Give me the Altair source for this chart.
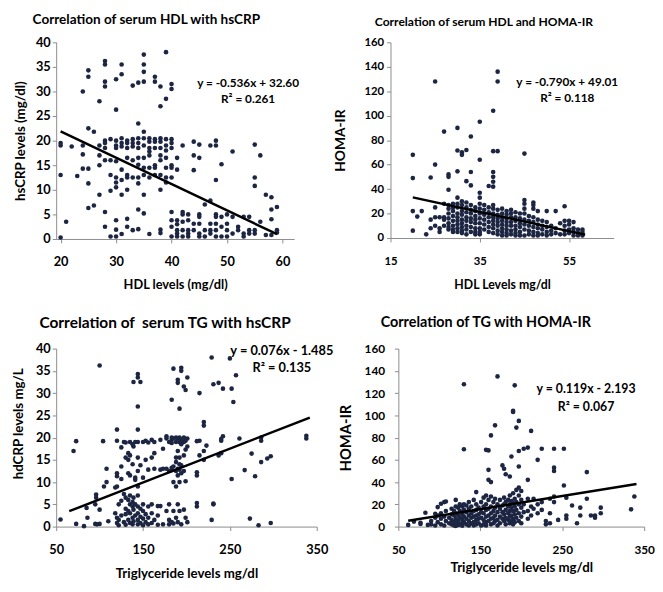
import altair as alt
import pandas as pd

FONT = "Lato"
DOT = "#1c2541"
AXC = "#8c8c8c"

# ---- Panel 1: HDL (mg/dl) -> hsCRP levels (mg/dl); keys are HDL, values are hsCRP readings
hdl_crp = {
    20: [19.5, 19.0, 13.0, 0.3], 21: [3.5], 22: [18.8], 23: [12.8],
    24: [30.0, 19.0, 17.2, 14.3], 25: [34.3, 33.0, 22.5, 14.3, 11.3, 6.3],
    26: [21.8, 6.8], 27: [28.0, 19.0, 17.0, 15.0, 9.0],
    28: [36.2, 35.5, 32.0, 31.0, 20.0, 19.5, 18.5, 16.0, 5.5, 2.5],
    29: [20.3, 16.0, 13.0, 9.8, 0.5],
    30: [32.5, 26.3, 20.0, 19.0, 18.5, 15.8, 12.5, 11.5, 10.5, 3.8, 1.9, 0.5],
    31: [35.5, 33.5, 20.5, 19.5, 18.8, 14.1, 12.0, 9.0, 1.0],
    32: [20.0, 19.5, 18.5, 16.5, 13.0, 12.5, 10.0, 4.1, 2.5],
    33: [31.2, 20.3, 19.5, 18.8, 16.0, 12.5, 1.8],
    34: [31.8, 23.5, 20.5, 19.5, 18.5, 16.5, 15.1, 12.5, 11.3, 6.0, 2.0],
    35: [37.5, 35.5, 34.0, 32.0, 21.8, 20.5, 19.0, 16.5, 14.5, 13.0, 9.0, 5.2],
    36: [20.5, 19.8, 18.5, 17.8, 17.0, 14.5, 12.5, 1.0],
    37: [33.0, 32.0, 20.3, 19.8, 18.5, 15.0, 14.5, 13.0],
    38: [31.0, 27.0, 20.5, 19.8, 18.5, 17.0, 16.0, 13.0, 10.0, 1.9, 1.2],
    39: [38.0, 28.5, 20.3, 19.0, 18.0, 16.5, 14.5, 12.5, 11.5],
    40: [31.5, 30.5, 20.3, 19.5, 18.5, 15.0, 14.5, 12.5, 5.5, 3.8, 2.5, 0.5],
    41: [16.5, 14.1, 3.8, 3.0, 1.8, 1.1, 0.5],
    42: [19.0, 5.5, 5.0, 3.5, 1.8, 0.5],
    43: [5.0, 3.8, 1.8, 1.1, 0.5],
    44: [19.8, 17.0, 14.0, 3.1, 1.8],
    45: [19.2, 16.5, 5.0, 4.5, 3.1, 1.1, 0.5],
    46: [7.0, 1.8, 0.5], 47: [19.0, 7.8, 3.1, 1.8, 1.1],
    48: [20.0, 19.0, 12.0, 5.0, 4.5, 3.1, 1.8, 0.5],
    49: [15.2, 4.5, 2.5, 0.5], 50: [5.0, 3.1, 1.8, 0.5],
    51: [17.8, 4.5, 1.1], 52: [2.5, 1.8], 53: [4.5, 1.1, 0.5],
    54: [4.5, 1.8, 1.1], 55: [19.2, 12.5, 10.8, 1.8, 1.1],
    56: [17.0, 3.5], 57: [9.0, 0.8], 58: [8.5, 6.0, 4.0, 0.8], 59: [6.5, 1.8, 1.3],
}

# ---- Panel 2: HDL (mg/dl) -> HOMA-IR
hdl_homa = {
    20: [68.0, 49.0, 22.0, 6.0], 21: [17.5], 22: [22.0], 23: [3.0],
    24: [49.5, 15.0, 8.0], 25: [128.0, 60.0, 25.0, 17.0, 10.0],
    26: [17.0, 8.0, 5.0], 27: [87.0, 28.0, 17.0, 15.0, 10.0],
    28: [52.0, 50.0, 39.5, 27.0, 24.0, 20.0, 16.0, 12.0, 9.0, 7.0],
    29: [28.0, 25.0, 22.0, 18.0, 14.0, 10.0, 7.0, 5.0],
    30: [90.0, 71.5, 54.5, 33.0, 28.0, 25.0, 20.0, 17.0, 14.0, 11.0, 8.0, 5.0],
    31: [70.0, 68.0, 30.0, 27.0, 22.0, 19.0, 15.0, 12.0, 9.0, 6.0, 4.0],
    32: [72.0, 46.5, 29.0, 25.0, 21.0, 17.0, 14.0, 10.0, 7.0, 3.0],
    33: [83.0, 54.0, 43.0, 27.0, 23.0, 20.0, 16.0, 13.0, 9.0, 5.0],
    34: [25.0, 22.0, 18.0, 15.0, 12.0, 8.0, 5.0, 3.0],
    35: [95.0, 64.0, 37.0, 33.0, 28.0, 24.0, 20.0, 16.0, 12.0, 8.0, 5.0, 3.0],
    36: [27.0, 23.0, 19.0, 15.0, 11.0, 7.0],
    37: [42.5, 25.0, 21.0, 17.0, 13.0, 9.0, 5.0],
    38: [104.0, 71.0, 54.0, 50.0, 46.0, 42.0, 27.0, 24.0, 20.0, 17.0, 14.0, 11.0, 8.0, 4.0],
    39: [136.0, 128.0, 71.0, 23.0, 19.0, 16.0, 13.0, 10.0, 6.0, 3.0],
    40: [24.0, 20.0, 17.0, 14.0, 11.0, 8.0, 5.0, 2.0],
    41: [22.0, 19.0, 16.0, 13.0, 10.0, 7.0, 4.0, 2.0],
    42: [23.0, 20.0, 17.0, 13.0, 10.0, 6.0, 3.0],
    43: [21.0, 17.0, 14.0, 10.0, 7.0, 4.0, 2.0],
    44: [20.0, 16.0, 12.0, 9.0, 5.0, 2.0],
    45: [69.0, 31.0, 28.0, 24.0, 20.0, 15.0, 11.0, 7.0, 2.0],
    46: [18.0, 14.0, 10.0, 6.0, 3.0],
    47: [29.0, 27.0, 24.0, 17.0, 13.0, 9.0, 5.0, 2.0],
    48: [22.0, 15.0, 11.0, 8.0, 4.0, 2.0], 49: [14.0, 10.0, 7.0, 3.0],
    50: [22.0, 13.0, 9.0, 5.0, 2.0], 51: [10.0, 6.0, 3.0], 52: [22.0, 8.0, 4.0],
    53: [12.0, 3.0], 54: [26.0, 14.0, 10.0, 6.0, 3.0], 55: [14.0, 11.0, 7.0, 4.0],
    56: [13.0, 8.0, 5.0, 2.0], 57: [7.0, 4.0, 2.0], 58: [7.0, 5.0, 3.0, 2.0],
}

# ---- Panel 3: triglyceride (mg/dl) -> hsCRP (mg/L)
tg_crp = {
    55: [1.6], 70: [17.0], 73: [19.2, 0.6], 82: [0.1], 85: [4.2], 86: [2.0],
    95: [5.0, 0.6], 96: [7.2, 6.5], 97: [0.5], 100: [36.2, 3.8, 0.6],
    104: [19.2], 105: [9.0], 108: [13.0, 10.0], 110: [1.2], 118: [3.0, 8.8],
    120: [21.8, 19.3, 12.0, 11.3, 9.0, 2.0, 0.8], 122: [5.0, 1.5, 0.3],
    125: [17.8, 13.5, 10.7, 5.8, 2.5], 128: [19.0, 7.3, 1.0],
    130: [18.9, 15.5, 6.5, 4.0, 2.8, 0.4], 133: [16.5, 15.0, 12.0, 6.0, 3.5, 1.5],
    135: [19.0, 16.0, 11.5, 7.0, 5.0, 3.0, 0.8], 138: [18.5, 14.0, 5.5, 4.5, 2.0, 0.5],
    139: [32.5, 18.0, 6.5, 3.8, 1.2], 141: [19.0, 11.0, 10.5, 5.0, 2.5],
    144: [34.3, 33.5, 27.0, 21.8, 19.0, 15.5, 12.5, 9.0, 7.0, 4.5, 3.0, 1.5, 0.5],
    147: [32.5, 13.8, 4.0, 2.2, 0.8], 150: [19.0, 11.0, 5.0, 3.5, 1.8, 0.3],
    153: [19.3, 15.0, 2.8, 1.0], 156: [18.9, 12.8, 4.5, 2.0, 0.5],
    160: [19.5, 15.5, 5.0, 3.0, 0.8], 163: [19.0, 16.5, 13.0, 1.5],
    167: [4.6, 2.5, 0.4], 170: [19.5, 12.8, 4.6], 173: [17.5, 13.0, 0.5],
    177: [20.3, 19.8, 13.0, 3.5], 180: [19.0, 12.5, 5.0, 1.5, 0.5],
    183: [28.5, 20.0, 19.5, 18.8, 13.2, 12.7, 1.0],
    185: [35.5, 19.8, 13.5, 10.0, 3.5, 0.7],
    188: [20.0, 19.0, 15.5, 14.5, 12.5, 9.0, 2.0],
    190: [33.0, 32.3, 19.8, 17.0, 13.0, 11.5, 5.0, 1.0],
    192: [26.5, 20.0, 19.0, 15.5, 14.0, 12.8, 10.0, 3.5],
    194: [35.7, 35.0, 19.5, 18.5, 13.8, 12.0, 0.5],
    197: [31.5, 20.0, 19.0, 16.0, 12.5, 3.8], 199: [30.7, 19.3, 17.3, 10.2, 2.0],
    201: [33.5, 19.8, 18.0, 1.0], 212: [19.2, 12.2, 11.5, 5.3, 4.5],
    215: [30.0, 19.3, 16.0], 220: [23.5, 22.7, 17.0, 15.0], 223: [18.2],
    229: [38.0, 1.5], 231: [32.0, 5.2, 5.0], 237: [32.3, 16.0],
    240: [19.3, 19.7, 16.5], 242: [31.0, 20.3], 250: [37.8], 252: [31.0, 10.7],
    254: [28.0], 257: [34.0], 261: [19.8], 267: [12.7], 273: [1.8], 275: [16.4],
    279: [11.3], 283: [0.3], 286: [20.0, 19.3, 14.5], 293: [15.3],
    297: [15.8, 0.8], 338: [20.4, 19.8],
}

# ---- Panel 4: triglyceride (mg/dl) -> HOMA-IR
tg_homa = {
    62: [1.5], 69: [4.5], 77: [2.3, 3.5], 83: [12.5], 86: [1.5], 90: [5.0, 2.0],
    95: [8.0, 11.5, 1.0], 98: [17.5, 10.0, 4.0], 102: [20.5, 12.0, 7.0, 2.0],
    106: [22.0, 9.0, 1.0], 108: [22.5, 14.0, 5.0], 112: [8.0, 3.0],
    115: [16.0, 11.0, 6.0, 2.0], 118: [14.0, 10.0, 4.0, 1.0],
    120: [24.0, 18.0, 12.0, 7.0, 3.0, 0.5], 123: [17.0, 10.0, 5.0, 1.5],
    125: [20.0, 14.0, 8.0, 2.0], 128: [18.0, 11.0, 6.0, 3.0, 0.8],
    130: [128.0, 69.5, 20.0, 15.0, 9.0, 4.0], 133: [19.0, 13.0, 7.0, 2.0],
    136: [22.0, 16.0, 10.0, 5.0, 1.0], 139: [18.0, 12.0, 8.0, 3.0],
    142: [24.0, 14.0, 9.0, 4.0, 1.0], 145: [31.0, 20.0, 15.0, 10.0, 6.0, 2.0],
    148: [17.0, 11.0, 7.0, 3.0], 151: [22.0, 13.0, 8.0, 1.0],
    154: [26.0, 18.0, 12.0, 6.0, 2.0], 157: [69.0, 28.0, 20.0, 15.0, 9.0, 4.0, 1.0],
    160: [68.5, 51.0, 42.0, 24.0, 16.0, 10.0, 5.0],
    163: [82.0, 40.0, 27.0, 18.0, 12.0, 7.0, 2.0], 166: [22.0, 14.0, 8.0, 3.0],
    168: [91.0, 25.0, 17.0, 10.0, 5.0], 171: [135.0, 20.0, 13.0, 6.0, 1.0],
    174: [24.0, 16.0, 9.0, 3.0], 177: [55.0, 19.0, 13.0, 7.0],
    179: [52.0, 26.0, 20.0, 11.0, 5.0], 181: [47.0, 22.0, 15.0, 8.0, 2.0],
    184: [24.0, 18.0, 12.0, 6.0], 186: [45.0, 28.0, 20.0, 14.0, 9.0, 3.0],
    188: [63.0, 23.0, 17.0, 10.0, 5.0], 190: [104.0, 103.0, 30.0, 21.0, 14.0, 7.0, 2.0],
    192: [127.0, 25.0, 18.0, 11.0, 4.0], 194: [89.0, 33.0, 22.0, 15.0, 8.0],
    197: [95.0, 68.0, 54.0, 35.0, 28.0, 20.0, 12.0, 5.0],
    200: [32.0, 24.0, 17.0, 9.0, 3.0], 203: [70.0, 20.0, 13.0],
    208: [71.0, 42.0, 25.0, 14.0, 7.0], 212: [86.0, 18.0, 10.0], 215: [25.0, 16.0],
    220: [60.0, 20.0, 12.0], 225: [70.0, 22.0, 15.0], 230: [5.0, 2.0],
    235: [25.0, 12.0, 3.0], 240: [70.0, 53.0, 50.0, 27.0, 22.0], 245: [6.0],
    252: [70.0, 37.0], 255: [26.0, 10.0, 7.0], 262: [19.0], 268: [3.0],
    272: [17.0, 10.0], 280: [49.0, 25.0], 285: [10.0], 290: [10.0, 8.0],
    297: [17.0, 12.0], 334: [15.5], 338: [27.0],
}

titles = ["Correlation of serum HDL with hsCRP", "Correlation of serum HDL and HOMA-IR",
          "Correlation of\u00a0 serum TG with hsCRP", "Correlation of TG with HOMA-IR"]
x_titles = ["HDL levels (mg/dl)", "HDL Levels mg/dl",
            "Triglyceride levels mg/dl", "Triglyceride levels mg/dl"]
y_titles = ["hsCRP levels (mg/dl)", "HOMA-IR", "hdCRP levels mg/L", "HOMA-IR"]
equations = ["y = -0.536x + 32.60", "y = -0.790x + 49.01",
             "y = 0.076x - 1.485", "y = 0.119x - 2.193"]
r_squared = ["R² = 0.261", "R² = 0.118", "R² = 0.135", "R² = 0.067"]
slopes = [-0.536, -0.790, 0.076, 0.119]
intercepts = [32.60, 49.01, -1.485, -2.193]
trend_x_range = [(20, 59), (20, 58.6), (65, 342), (62, 340.6)]
# label anchor positions (data units): equation line, R² line
eq_pos = [(53.8, 31.7, 28.5), (54.6, 127.7, 114.7), (309.8, 39.4, 35.6), (279, 123.3, 107.4)]
x_domains = [[19.2, 62.1], [15, 65], [50, 350], [50, 350]]
y_domains = [[0, 40], [0, 160], [0, 40], [0, 160]]
x_ticks = [[20, 30, 40, 50, 60], [15, 35, 55], [50, 150, 250, 350], [50, 150, 250, 350]]
y_ticks = [[0, 5, 10, 15, 20, 25, 30, 35, 40], [0, 20, 40, 60, 80, 100, 120, 140, 160],
           [0, 5, 10, 15, 20, 25, 30, 35, 40], [0, 20, 40, 60, 80, 100, 120, 140, 160]]
point_sets = [hdl_crp, hdl_homa, tg_crp, tg_homa]

# layout / style per panel
W = [242, 227, 265, 250]
H = [200, 199, 181, 181]
title_size = [13.8, 12.3, 15.7, 14.6]
title_dx = [-24, -16, -17, -18]
title_offset = [10.2, 8.5, 11, 13]
tick_size = [13, 11.5, 13, 12]
ylab_pad = [2, 3, 2, 10]
xlab_pad = [13, 14, 13, 14]
xtitle_size = [13, 12.5, 13.5, 13.5]
ytitle_size = [13.5, 14, 13.5, 15]
xtitle_y = [46, 47, 48, 42]
ytitle_x = [-36, -51, -38.5, -54]
ytitle_y = [None, None, 76, None]
eq_size = [12, 12, 13, 12.5]


def panel(i):
    pts = pd.DataFrame([(x, y) for x, ys in point_sets[i].items() for y in ys], columns=["x", "y"])
    x0, x1 = trend_x_range[i]
    trend = pd.DataFrame({"x": [x0, x1],
                          "y": [slopes[i] * x0 + intercepts[i], slopes[i] * x1 + intercepts[i]]})
    ex, ey, ry = eq_pos[i]
    ann = pd.DataFrame({"x": [ex, ex], "y": [ey, ry], "t": [equations[i], r_squared[i]]})

    xs = alt.Scale(domain=x_domains[i], nice=False, zero=False)
    ys = alt.Scale(domain=y_domains[i], nice=False, zero=False)
    xaxis = alt.Axis(values=x_ticks[i], title=x_titles[i], grid=False, domainColor=AXC,
                     tickColor=AXC, tickSize=4, labelFont=FONT, labelFontSize=tick_size[i],
                     labelFontWeight="bold", labelColor="black", labelPadding=xlab_pad[i],
                     labelFlush=False, labelOverlap=False, titleFont=FONT,
                     titleFontSize=xtitle_size[i], titleFontWeight="bold", titleColor="black",
                     titleBaseline="middle", titleY=xtitle_y[i])
    yargs = dict(values=y_ticks[i], title=y_titles[i], grid=False, domainColor=AXC,
                 tickColor=AXC, tickSize=4, labelFont=FONT, labelFontSize=tick_size[i],
                 labelFontWeight="bold", labelColor="black", labelPadding=ylab_pad[i],
                 labelFlush=False, labelOverlap=False, labelBound=False, titleFont=FONT,
                 titleFontSize=ytitle_size[i], titleFontWeight="bold", titleColor="black",
                 titleBaseline="middle", titleX=ytitle_x[i])
    if ytitle_y[i] is not None:
        yargs["titleY"] = ytitle_y[i]
    yaxis = alt.Axis(**yargs)

    X = alt.X("x:Q", scale=xs, axis=xaxis)
    Y = alt.Y("y:Q", scale=ys, axis=yaxis)
    dots = alt.Chart(pts).mark_circle(size=22, color=DOT, opacity=1).encode(x=X, y=Y)
    line = alt.Chart(trend).mark_line(color="black", strokeWidth=2.5).encode(x=X, y=Y)
    text = alt.Chart(ann).mark_text(font=FONT, fontWeight="bold", fontSize=eq_size[i],
                                    color="black").encode(x=X, y=Y, text="t:N")
    tparams = dict(anchor="start", frame="group", dx=title_dx[i], offset=title_offset[i],
                   font=FONT, fontSize=title_size[i], fontWeight="bold", color="black")
    return alt.layer(dots, line, text).properties(
        width=W[i], height=H[i], title=alt.TitleParams(titles[i], **tparams))


row1 = alt.hconcat(panel(0), panel(1), spacing=34)
row2 = alt.hconcat(panel(2), panel(3), spacing=4)
chart = alt.vconcat(row1, row2, spacing=24.5).properties(
    padding={"left": 3, "top": 0, "right": 0, "bottom": 0},
    background="white").configure_view(stroke=None).configure_axis(labelOverlap=False)

chart.save("out.html", embed_options={"renderer": "svg", "actions": False})
